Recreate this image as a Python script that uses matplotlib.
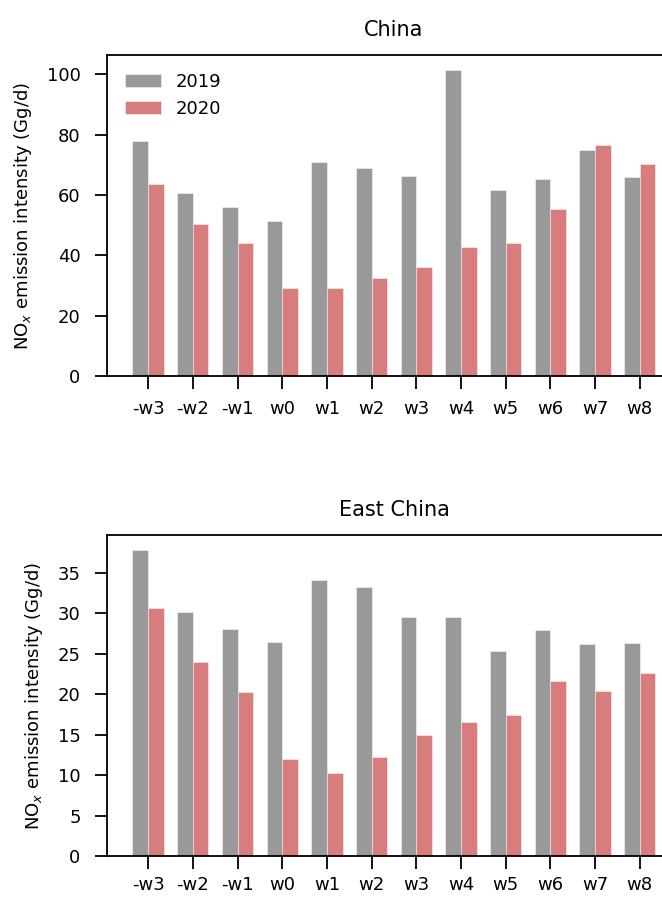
import numpy as np
import matplotlib
matplotlib.use("Agg")
import matplotlib.pyplot as plt

# weeks relative to the lockdown
weeks = ["-w3", "-w2", "-w1", "w0", "w1", "w2", "w3", "w4", "w5", "w6", "w7", "w8"]

# China, NOx emission intensity (Gg/d)
china_2019 = [77.9, 60.5, 56.0, 51.3, 70.9, 68.8, 66.4, 101.3, 61.5, 65.2, 75.0, 65.8]
china_2020 = [63.7, 50.4, 44.2, 29.3, 29.0, 32.5, 36.1, 42.8, 43.9, 55.2, 76.4, 70.4]

# East China
east_2019 = [37.8, 30.2, 28.1, 26.5, 34.1, 33.3, 29.6, 29.6, 25.4, 27.9, 26.2, 26.3]
east_2020 = [30.7, 24.0, 20.3, 12.0, 10.3, 12.3, 15.0, 16.6, 17.5, 21.7, 20.4, 22.6]

plt.rcParams["font.family"] = "DejaVu Sans"
plt.rcParams["axes.linewidth"] = 1.3

fig = plt.figure(figsize=(6.62, 8.99), dpi=100)

# axes stretch a little past the right edge, like the cropped original
ax1 = fig.add_axes([0.1616, 0.5818, 0.867, 0.357])
ax2 = fig.add_axes([0.1616, 0.0478, 0.867, 0.357])

x = np.arange(len(weeks))
w = 0.35


def draw(ax, v19, v20, title, yticks, xpad, legend=False):
    ax.bar(x - w / 2, v19, w, color="gray", alpha=0.8, edgecolor="white",
           linewidth=0.4, label="2019")
    ax.bar(x + w / 2, v20, w, color="indianred", alpha=0.8, edgecolor="white",
           linewidth=0.4, label="2020")
    ax.set_xlim(-0.92, 11.92)
    ax.set_ylim(0, max(max(v19), max(v20)) * 1.05)
    ax.set_xticks(x)
    ax.set_xticklabels(weeks)
    ax.set_yticks(yticks)
    ax.tick_params(axis="x", direction="out", length=9, width=1.3,
                   pad=xpad, labelsize=13)
    ax.tick_params(axis="y", direction="out", length=9, width=1.3,
                   pad=10, labelsize=13)
    ax.set_ylabel("NO$_x$ emission intensity (Gg/d)", fontsize=13, labelpad=9)
    ax.set_title(title, fontsize=15, pad=14)
    if legend:
        ax.legend(loc="upper left", frameon=False, fontsize=13,
                  bbox_to_anchor=(0.0, 1.0), borderaxespad=0.6)


draw(ax1, china_2019, china_2020, "China", [0, 20, 40, 60, 80, 100], 8, legend=True)
draw(ax2, east_2019, east_2020, "East China", [0, 5, 10, 15, 20, 25, 30, 35], 5.5)

fig.savefig("out.png", dpi=100)
